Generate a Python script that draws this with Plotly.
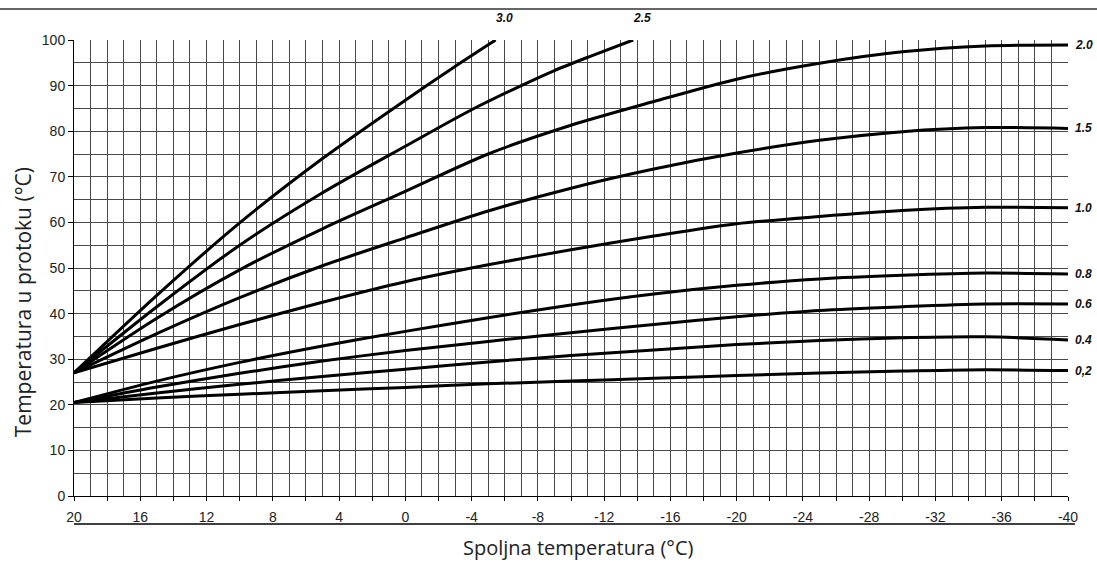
import plotly.graph_objects as go

# outdoor temperature (x) and flow temperature (y)
outdoor = [20, 15, 10, 5, 0, -5, -10, -15, -20, -25, -30, -35, -40]
curve_02 = [20.5, 21.5, 22.3, 23.1, 23.8, 24.6, 25.2, 25.8, 26.4, 27.0, 27.4, 27.7, 27.5]
curve_04 = [20.5, 22.6, 24.5, 26.2, 27.8, 29.4, 30.8, 32.0, 33.2, 34.1, 34.7, 34.9, 34.2]
curve_06 = [20.5, 23.9, 26.9, 29.6, 31.9, 33.9, 35.8, 37.6, 39.3, 40.7, 41.5, 42.1, 42.1]
curve_08 = [20.5, 25.2, 29.3, 32.9, 36.1, 39.1, 41.9, 44.3, 46.2, 47.6, 48.4, 48.9, 48.7]
curve_10 = [27, 32.4, 37.6, 42.5, 47.0, 50.7, 54.0, 57.0, 59.7, 61.3, 62.6, 63.3, 63.2]
curve_15 = [27, 35.6, 43.5, 50.5, 56.6, 62.5, 67.5, 71.7, 75.2, 78.0, 79.9, 80.8, 80.6]
curve_20 = [27, 39, 49.6, 58.6, 66.8, 75.0, 81.3, 86.5, 91.4, 94.9, 97.4, 98.7, 98.9]

outdoor_25 = [20, 15, 10, 5, 0, -4, -7, -9, -11, -13.75]
curve_25 = [27, 41.5, 55, 66.5, 76.7, 84.7, 90, 93.3, 96.2, 100]
outdoor_30 = [20, 15, 10, 5, 0, -3, -5.45]
curve_30 = [27, 44, 59.9, 74, 86.8, 94.2, 100]

right_labels = ["0,2", "0.4", "0.6", "0.8", "1.0", "1.5", "2.0"]
top_labels = ["2.5", "3.0"]

x_tickvals = list(range(20, -41, -2))
x_ticktext = [str(v) if v % 4 == 0 else "" for v in x_tickvals]
y_tickvals = list(range(0, 101, 10))

label_font = dict(family="Liberation Sans, Arial", size=12, color="#111")
grid_col = "#484848"

fig = go.Figure()

right_curves = [curve_02, curve_04, curve_06, curve_08, curve_10, curve_15, curve_20]
for name, ys in zip(right_labels, right_curves):
    fig.add_trace(go.Scatter(x=outdoor, y=ys, mode="lines", name=name,
                             line=dict(color="black", width=3, shape="spline", smoothing=0.8)))
    fig.add_annotation(x=outdoor[-1], y=ys[-1], text="<b><i>" + name + "</i></b>",
                       showarrow=False, xanchor="left", xshift=5, font=label_font)

for name, xs, ys in zip(top_labels, [outdoor_25, outdoor_30], [curve_25, curve_30]):
    fig.add_trace(go.Scatter(x=xs, y=ys, mode="lines", name=name,
                             line=dict(color="black", width=3, shape="spline", smoothing=0.8)))
    fig.add_annotation(x=xs[-1], y=ys[-1], text="<b><i>" + name + "</i></b>",
                       showarrow=False, xshift=9, yshift=22, font=label_font)

# axis titles
fig.add_annotation(x=0.507, y=-0.112, xref="paper", yref="paper", showarrow=False,
                   text="Spoljna temperatura (°C)", yanchor="middle",
                   font=dict(family="Open Sans", size=20, color="#222"))
fig.add_annotation(x=-0.0513, y=0.425, xref="paper", yref="paper", showarrow=False,
                   text="Temperatura u protoku (°C)", textangle=-90, xanchor="center",
                   font=dict(family="Open Sans", size=21, color="#222"))

# rule below the tick labels and rule across the top
fig.add_shape(type="line", xref="paper", yref="paper", x0=0, x1=1.007, y0=-0.0614, y1=-0.0614,
              line=dict(color="black", width=1.5))
fig.add_shape(type="line", xref="paper", yref="paper", x0=-0.08, x1=1.03, y0=1.068, y1=1.068,
              line=dict(color="#333", width=1.5))

fig.update_layout(
    width=1097, height=564,
    margin=dict(l=74, r=29, t=40, b=68),
    plot_bgcolor="white", paper_bgcolor="white",
    showlegend=False,
    font=dict(family="Liberation Sans, Arial", size=14, color="#222"),
    xaxis=dict(range=[20, -40], tickvals=x_tickvals, ticktext=x_ticktext,
               ticks="outside", ticklen=4, tickcolor="black",
               showgrid=True, gridcolor=grid_col, gridwidth=1,
               minor=dict(dtick=1, showgrid=True, gridcolor=grid_col, gridwidth=1),
               showline=True, linecolor="black", linewidth=1,
               zeroline=False, ticklabelstandoff=4),
    yaxis=dict(range=[0, 100], tickvals=y_tickvals,
               ticks="outside", ticklen=5, tickcolor="black",
               showgrid=True, gridcolor=grid_col, gridwidth=1,
               minor=dict(dtick=5, showgrid=True, gridcolor=grid_col, gridwidth=1),
               showline=True, linecolor="black", linewidth=1,
               zeroline=False),
)

# page body has a default margin; drop it so the figure sits at the window corner
fig.write_html("out.html", config={"displayModeBar": False},
               post_script="document.body.style.margin='0px';")
